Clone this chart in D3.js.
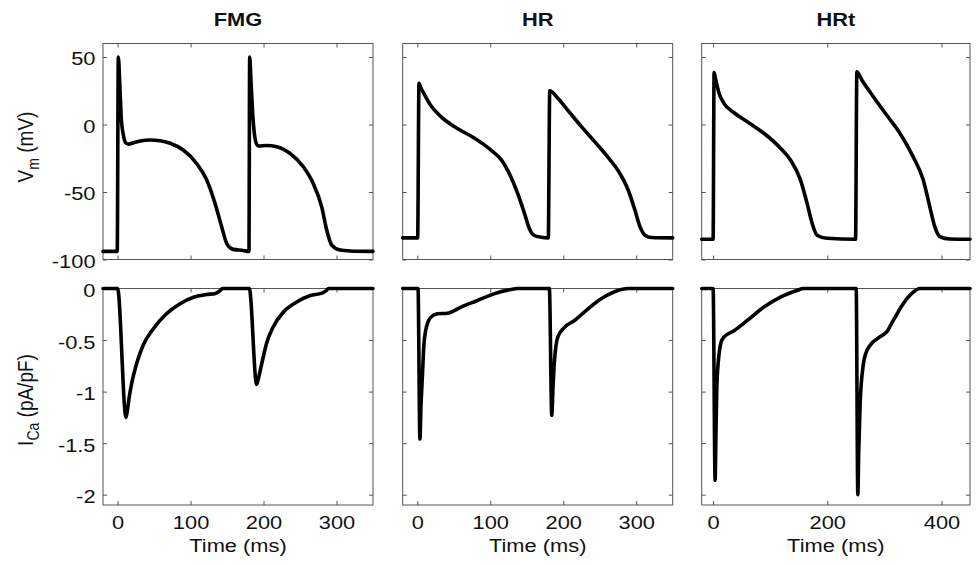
<!DOCTYPE html>
<html>
<head>
<meta charset="utf-8">
<script src="https://d3js.org/d3.v7.min.js"></script>
<style>
    body {margin: 0; background: #fff;}
    text {font-family: "Liberation Sans", Arial, sans-serif; font-size: 19px; fill: #111;}
    .title {font-weight: bold;}
    .tick line {stroke: #555;}
    .box {fill: none; stroke: #555; stroke-width: 1;}
    .trace {fill: none; stroke: #000; stroke-width: 3.6; stroke-linejoin: round; stroke-linecap: round;}
</style>
</head>
<body>
<script>
// [time (ms), Vm (mV)]
const fmgVm = [[-20,-94],[-0.5,-94],[1,50],[3,30],[5,5],[8,-8],[11,-13.5],[15,-14.5],[22,-13.5],[31,-12.3],[44,-11.5],
    [58,-12],[72,-13.9],[90,-18.9],[108,-28.7],[122,-41],[133.5,-58.4],[142.6,-75.7],[149.5,-88],[158.6,-92.5],
    [172,-93.3],[180,-94],[181,50],[183,30],[185.5,5],[188,-9],[190,-14],[193,-15.9],[204,-15.5],[218,-16.4],
    [236,-21.3],[254.5,-31.3],[268,-43.6],[279.7,-61],[286.5,-78],[293.4,-89.3],[304.8,-93],[318.5,-93.7],[350,-94]];
const hrVm = [[-20,-84],[0.5,-84],[2.3,30.5],[5,27],[9,23],[18,14.5],[32,6],[55,-3],[78,-10],[101,-19],[115,-26],
    [128,-38.5],[137.5,-51],[147,-66],[153.5,-77],[160,-82],[170,-83.5],[179.5,-84],[181.5,25],[192.6,19.4],[206,10.7],
    [225,-1.6],[243,-12.7],[261,-24],[275,-34],[289,-48.5],[298,-63],[305,-75.5],[312,-82],[321,-83.7],[350,-84]];
const hrtVm = [[-20,-85],[0,-85],[1.7,38.4],[4.7,33],[10.5,23],[19,15.7],[36.6,8.7],[60,2],[89,-6.5],[118,-17.6],
    [135.5,-26.3],[153,-41],[164.6,-58.4],[173.3,-73],[182,-82],[199.5,-84.3],[249.5,-85],[251.8,39],[260.5,33],
    [280.7,20.6],[304,7],[327.3,-6.5],[350.5,-24],[368,-41],[379.6,-61],[388.3,-75.7],[397,-83],[414.5,-84.8],[450,-85]];

// [time (ms), ICa (pA/pF)]
const fmgICa = [[-20,0],[0,0],[11.5,-1.25],[13,-1.2],[16,-1.05],[19.3,-0.92],[26,-0.73],[35,-0.55],[49,-0.39],
    [67,-0.245],[85,-0.15],[104,-0.085],[122,-0.058],[133,-0.05],[139,-0.03],[144,0],[180.5,0],[190.5,-0.93],[192,-0.9],
    [197.5,-0.73],[204,-0.535],[213,-0.375],[227,-0.23],[245,-0.133],[264,-0.068],[280,-0.045],[286,-0.02],[289,0],[350,0]];
const hrICa = [[-20,0],[1,0],[3.6,-1.46],[5,-1.15],[6.9,-0.86],[9,-0.55],[11.4,-0.41],[15,-0.32],[18.3,-0.28],
    [27.5,-0.245],[41,-0.24],[60,-0.18],[82.5,-0.116],[105,-0.052],[128,-0.01],[137,0],[181,0],[184.3,-1.23],[186,-0.95],
    [188,-0.7],[192.6,-0.47],[202,-0.375],[215.5,-0.31],[234,-0.197],[252,-0.1],[275,-0.02],[288,0],[350,0]];
const hrtICa = [[-20,0],[0,0],[3.5,-1.86],[5,-1.4],[6.5,-0.955],[10.5,-0.63],[14,-0.52],[19.2,-0.47],[36.6,-0.41],
    [60,-0.31],[89,-0.18],[118,-0.084],[147,-0.02],[158,0],[250.6,0],[253.5,-2.0],[255,-1.6],[257.5,-1.12],[263.3,-0.73],
    [268,-0.62],[275,-0.55],[292,-0.47],[304,-0.42],[315.6,-0.31],[333,-0.148],[350.5,-0.036],[362,0],[450,0]];

const titles = ['FMG', 'HR', 'HRt'];
const vmData = [fmgVm, hrVm, hrtVm];
const icaData = [fmgICa, hrICa, hrtICa];
const timeMax = [350, 350, 450];
const timeTicks = [[0,100,200,300], [0,100,200,300], [0,200,400]];
const vmTicks = [-100, -50, 0, 50];
const icaTicks = [-2, -1.5, -1, -0.5, 0];

// layout
const colLeft = [103, 402.7, 701.7];
const colWidth = [270, 270, 268.3];
const rowTop = [43.5, 288.5];
const rowHeight = [216, 216.5];
const SX = 1.15; // the figure text is a bit wide

const svg = d3.select('body').append('svg').attr('width', 980).attr('height', 565);

function wideText(x, y, rot) {
    return svg.append('text')
        .attr('transform', 'translate(' + x + ',' + y + ') scale(' + SX + ',1)' + (rot ? ' rotate(-90)' : ''))
        .attr('text-anchor', 'middle');
}

for (let c = 0; c < 3; c++) {
    const xs = d3.scaleLinear().domain([-20, timeMax[c]]).range([colLeft[c], colLeft[c] + colWidth[c]]);
    const rows = [
        {data: vmData[c], domain: [-100, 60], ticks: vmTicks},
        {data: icaData[c], domain: [-2.1, 0], ticks: icaTicks}
    ];

    rows.forEach(function(r, k) {
        const top = rowTop[k], bot = rowTop[k] + rowHeight[k];
        const ys = d3.scaleLinear().domain(r.domain).range([bot, top]);
        const g = svg.append('g');

        g.append('rect').attr('class', 'box')
            .attr('x', xs.range()[0]).attr('y', top)
            .attr('width', colWidth[c]).attr('height', rowHeight[k]);

        // inside ticks on all four sides
        g.append('g').attr('transform', 'translate(0,' + bot + ')')
            .call(d3.axisBottom(xs).tickValues(timeTicks[c]).tickSize(-4).tickSizeOuter(0).tickPadding(11)
                .tickFormat(k === 1 ? d => String(d) : () => ''))
            .call(a => a.select('.domain').remove())
            .selectAll('text').attr('transform', 'scale(' + SX + ',1)');
        g.append('g').attr('transform', 'translate(0,' + top + ')')
            .call(d3.axisTop(xs).tickValues(timeTicks[c]).tickSize(-4).tickSizeOuter(0).tickFormat(() => ''))
            .call(a => a.select('.domain').remove());
        g.append('g').attr('transform', 'translate(' + xs.range()[0] + ',0)')
            .call(d3.axisLeft(ys).tickValues(r.ticks).tickSize(-4).tickSizeOuter(0).tickPadding(6.5)
                .tickFormat(c === 0 ? d => String(d) : () => ''))
            .call(a => a.select('.domain').remove())
            .selectAll('text').attr('dy', '0.42em').attr('transform', 'scale(' + SX + ',1)');
        g.append('g').attr('transform', 'translate(' + xs.range()[1] + ',0)')
            .call(d3.axisRight(ys).tickValues(r.ticks).tickSize(-4).tickSizeOuter(0).tickFormat(() => ''))
            .call(a => a.select('.domain').remove());

        const line = d3.line().x(d => xs(d[0])).y(d => ys(d[1])).curve(d3.curveMonotoneX);
        g.append('path').attr('class', 'trace').attr('d', line(r.data));
    });

    const mid = colLeft[c] + colWidth[c] / 2;
    wideText(mid, 25.7).attr('class', 'title').text(titles[c]);
    wideText(mid, 552).text('Time (ms)');
}

// y labels with subscripts
const vmLabel = wideText(33, 147, true);
vmLabel.append('tspan').text('V');
vmLabel.append('tspan').attr('dy', 5).style('font-size', '14px').text('m');
vmLabel.append('tspan').attr('dy', -5).text(' (mV)');

const icaLabel = wideText(33, 400, true);
icaLabel.append('tspan').text('I');
icaLabel.append('tspan').attr('dy', 5).style('font-size', '14px').text('Ca');
icaLabel.append('tspan').attr('dy', -5).text(' (pA/pF)');
</script>
</body>
</html>
